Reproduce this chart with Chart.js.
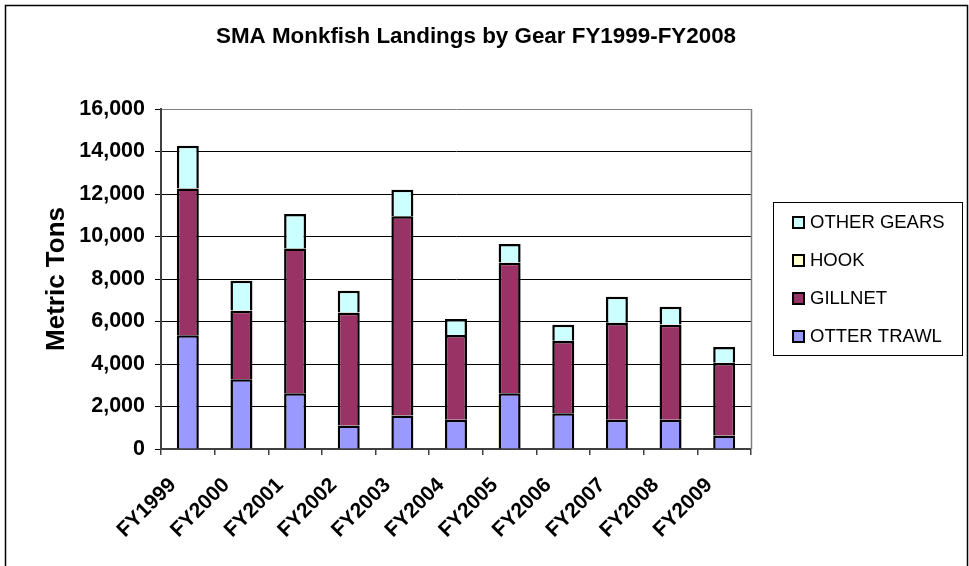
<!DOCTYPE html>
<html>
<head>
<meta charset="utf-8">
<title>SMA Monkfish Landings by Gear</title>
<script src="https://cdn.jsdelivr.net/npm/chart.js@4.4.1/dist/chart.umd.min.js"></script>
<style>
    html, body { margin: 0; padding: 0; background: #fff; }
    #wrap { width: 969px; height: 566px; position: relative; }
</style>
</head>
<body>
<div id="wrap"><canvas id="chart"></canvas></div>
<script>
const chartTitle = 'SMA Monkfish Landings by Gear FY1999-FY2008';
const yTitle = 'Metric Tons';
const categories = ['FY1999', 'FY2000', 'FY2001', 'FY2002', 'FY2003', 'FY2004',
    'FY2005', 'FY2006', 'FY2007', 'FY2008', 'FY2009'];

// metric tons
const otterTrawl = [5350, 3280, 2620, 1110, 1580, 1380, 2620, 1680, 1380, 1380, 640];
const gillnet    = [6910, 3230, 6810, 5300, 9370, 3980, 6150, 3400, 4550, 4470, 3410];
const hook       = [15, 10, 10, 10, 10, 10, 10, 10, 10, 10, 10];
const otherGears = [2000, 1400, 1620, 1030, 1240, 750, 870, 760, 1230, 840, 740];

const yMin = 0, yMax = 16000, yStep = 2000;

const FONT = "Arial, 'Liberation Sans', sans-serif";

// draws the frame, the title, the plot border and the boxed legend
const decor = {
    id: 'decor',
    afterDraw(chart) {
        const ctx = chart.ctx;
        const area = chart.chartArea;
        ctx.save();

        // outer frame
        ctx.strokeStyle = '#000';
        ctx.lineWidth = 1.5;
        ctx.strokeRect(5.5, 5.5, 962, 620);

        // title
        ctx.fillStyle = '#000';
        ctx.font = 'bold 22.4px ' + FONT;
        ctx.textAlign = 'center';
        ctx.textBaseline = 'middle';
        ctx.fillText(chartTitle, 476, 37);

        // plot border right
        ctx.strokeStyle = '#808080';
        ctx.lineWidth = 1.5;
        ctx.beginPath();
        ctx.moveTo(Math.round(area.right) + 0.5, area.top);
        ctx.lineTo(Math.round(area.right) + 0.5, area.bottom);
        ctx.stroke();

        // legend
        ctx.strokeStyle = '#000';
        ctx.lineWidth = 1;
        ctx.strokeRect(773.5, 202.5, 189, 153);
        ctx.font = '18.5px ' + FONT;
        ctx.textAlign = 'left';
        const sets = chart.data.datasets.slice().reverse();
        sets.forEach((ds, i) => {
            const y = 222 + i * 38;
            ctx.fillStyle = ds.backgroundColor;
            ctx.fillRect(793, y - 5, 11, 11);
            ctx.lineWidth = 2;
            ctx.strokeRect(793, y - 5, 11, 11);
            ctx.fillStyle = '#000';
            ctx.fillText(ds.label, 810, y + 1);
        });
        ctx.restore();
    }
};

function barSet(label, data, color) {
    return {
        label: label,
        data: data,
        backgroundColor: color,
        borderColor: '#000',
        borderWidth: 2.5,
        categoryPercentage: 1,
        barPercentage: 0.41
    };
}

new Chart(document.getElementById('chart'), {
    type: 'bar',
    data: {
        labels: categories,
        datasets: [
            barSet('OTTER TRAWL', otterTrawl, '#9999FF'),
            barSet('GILLNET', gillnet, '#993366'),
            barSet('HOOK', hook, '#FFFFCC'),
            barSet('OTHER GEARS', otherGears, '#CCFFFF')
        ]
    },
    options: {
        responsive: true,
        maintainAspectRatio: false,
        animation: false,
        layout: { padding: { left: 0, top: 109, right: 218, bottom: 0 } },
        plugins: {
            legend: { display: false },
            title: { display: false },
            tooltip: { enabled: false }
        },
        scales: {
            x: {
                stacked: true,
                afterFit: scale => { scale.height = 117; },
                grid: { drawOnChartArea: false, tickLength: 6, color: '#404040', lineWidth: 1.5 },
                border: { color: '#404040', width: 2 },
                ticks: {
                    color: '#000',
                    font: { family: FONT, size: 21, weight: 'bold' },
                    minRotation: 45,
                    maxRotation: 45,
                    padding: 18,
                    labelOffset: -15,
                    autoSkip: false
                }
            },
            y: {
                stacked: true,
                min: yMin,
                max: yMax,
                afterFit: scale => { scale.width = 161; },
                grid: {
                    color: ctx => ctx.tick && ctx.tick.value === yMax ? '#808080' : '#000',
                    tickColor: '#000',
                    tickLength: 6,
                    lineWidth: 1
                },
                border: { color: '#404040', width: 2 },
                title: {
                    display: true,
                    text: yTitle,
                    color: '#000',
                    font: { family: FONT, size: 26, weight: 'bold', lineHeight: 1 },
                    padding: { top: 44, bottom: 0 }
                },
                ticks: {
                    stepSize: yStep,
                    color: '#000',
                    padding: 10,
                    font: { family: FONT, size: 21.5, weight: 'bold' },
                    callback: v => v.toLocaleString('en-US')
                }
            }
        }
    },
    plugins: [decor]
});
</script>
</body>
</html>
